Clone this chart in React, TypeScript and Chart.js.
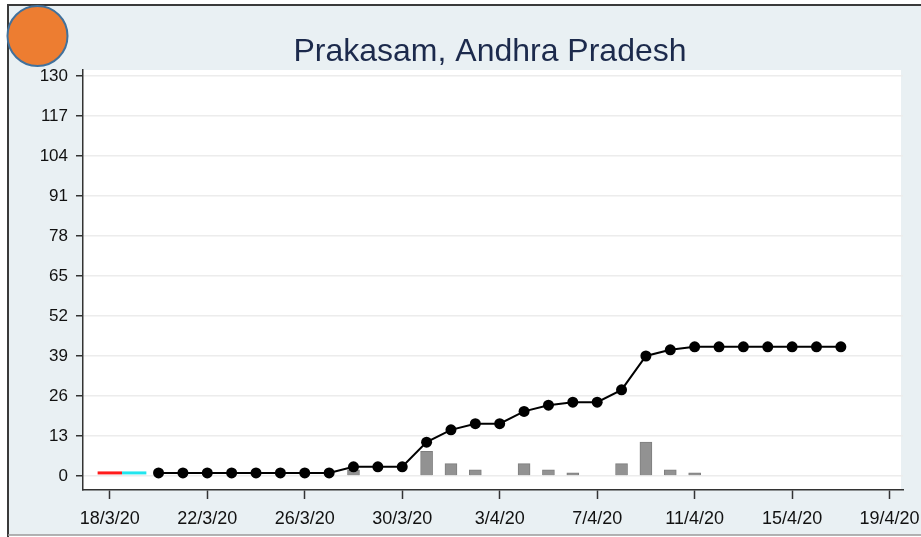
import React, { useEffect, useRef } from "react";
import { Chart, registerables } from "chart.js";

Chart.register(...registerables);

const chartTitle = "Prakasam, Andhra Pradesh";
const originDate = "18/3/20";

const dates = [
  "20/3/20", "21/3/20", "22/3/20", "23/3/20", "24/3/20", "25/3/20", "26/3/20", "27/3/20",
  "28/3/20", "29/3/20", "30/3/20", "31/3/20", "1/4/20", "2/4/20", "3/4/20", "4/4/20",
  "5/4/20", "6/4/20", "7/4/20", "8/4/20", "9/4/20", "10/4/20", "11/4/20", "12/4/20",
  "13/4/20", "14/4/20", "15/4/20", "16/4/20", "17/4/20",
];
const cumulativeCases = [
  1, 1, 1, 1, 1, 1, 1, 1,
  3, 3, 3, 11, 15, 17, 17, 21,
  23, 24, 24, 28, 39, 41, 42, 42,
  42, 42, 42, 42, 42,
];
const dailyCases = [
  0, 0, 0, 0, 0, 0, 0, 0,
  2, 0, 0, 8, 4, 2, 0, 4,
  2, 1, 0, 4, 11, 2, 1, 0,
  0, 0, 0, 0, 0,
];

// short coloured phase segments near the start (day offsets from origin, value)
const redSegment = { from: -0.5, to: 0.5, value: 1 };
const cyanSegment = { from: 0.5, to: 1.5, value: 1 };

const yTickValues = [0, 13, 26, 39, 52, 65, 78, 91, 104, 117, 130];
const xTickLabels = ["18/3/20", "22/3/20", "26/3/20", "30/3/20", "3/4/20", "7/4/20", "11/4/20", "15/4/20", "19/4/20"];

function dayIndex(s: string): number {
  const [d, m, y] = s.split("/").map(Number);
  const [od, om, oy] = originDate.split("/").map(Number);
  return (Date.UTC(2000 + y, m - 1, d) - Date.UTC(2000 + oy, om - 1, od)) / 86400000;
}

const FONT = "'Liberation Sans', Arial, sans-serif";

const decorPlugin = {
  id: "decor",
  beforeDraw(chart: any) {
    const { ctx, chartArea, width, height } = chart;
    ctx.save();
    ctx.fillStyle = "#ffffff";
    ctx.fillRect(0, 0, width, height);
    ctx.fillStyle = "#e9f0f3";
    ctx.fillRect(8, 5, width - 8, 530);
    ctx.fillStyle = "#ffffff";
    ctx.fillRect(chartArea.left, chartArea.top, 901 - chartArea.left, chartArea.bottom - chartArea.top);
    // frame
    ctx.strokeStyle = "#3a3a3a";
    ctx.lineWidth = 2;
    ctx.beginPath();
    ctx.moveTo(8, height);
    ctx.lineTo(8, 5);
    ctx.lineTo(width, 5);
    ctx.stroke();
    ctx.strokeStyle = "#9a9a9a";
    ctx.lineWidth = 1.5;
    ctx.beginPath();
    ctx.moveTo(8, 535);
    ctx.lineTo(width, 535);
    ctx.stroke();
    // title
    ctx.fillStyle = "#1c2a4c";
    ctx.font = `32px ${FONT}`;
    ctx.textAlign = "center";
    ctx.textBaseline = "alphabetic";
    ctx.fillText(chartTitle, 490, 61);
    ctx.restore();
  },
  afterDraw(chart: any) {
    const { ctx } = chart;
    ctx.save();
    ctx.beginPath();
    ctx.arc(37.5, 36, 30, 0, Math.PI * 2);
    ctx.fillStyle = "#ed7d31";
    ctx.fill();
    ctx.lineWidth = 2;
    ctx.strokeStyle = "#41719c";
    ctx.stroke();
    ctx.restore();
  },
};

export default function App() {
  const ref = useRef<HTMLCanvasElement | null>(null);

  useEffect(() => {
    if (!ref.current) return;
    const lineData = dates.map((d, i) => ({ x: dayIndex(d), y: cumulativeCases[i] }));
    const barData = dates.map((d, i) => ({ x: dayIndex(d), y: dailyCases[i] }));
    const labelByDay: Record<number, string> = {};
    xTickLabels.forEach((l) => (labelByDay[dayIndex(l)] = l));

    const chart = new Chart(ref.current, {
      type: "bar",
      data: {
        datasets: [
          {
            type: "line",
            data: lineData,
            borderColor: "#000000",
            backgroundColor: "#000000",
            borderWidth: 2,
            pointRadius: 5.5,
            pointBackgroundColor: "#000000",
            pointBorderWidth: 0,
            order: 1,
          } as any,
          {
            type: "line",
            data: [
              { x: redSegment.from, y: redSegment.value },
              { x: redSegment.to, y: redSegment.value },
            ],
            borderColor: "#ff1a1a",
            borderWidth: 3,
            pointRadius: 0,
            order: 1,
          } as any,
          {
            type: "line",
            data: [
              { x: cyanSegment.from, y: cyanSegment.value },
              { x: cyanSegment.to, y: cyanSegment.value },
            ],
            borderColor: "#22e5ee",
            borderWidth: 3,
            pointRadius: 0,
            order: 1,
          } as any,
          {
            type: "bar",
            data: barData,
            backgroundColor: "#929292",
            borderColor: "#7e7e7e",
            borderWidth: 1,
            barThickness: 12,
            order: 2,
          } as any,
        ],
      },
      options: {
        animation: false,
        responsive: false,
        maintainAspectRatio: false,
        layout: { padding: { left: 0, right: 18, top: 70, bottom: 0 } },
        plugins: {
          legend: { display: false },
          title: { display: false },
          tooltip: { enabled: false },
        },
        scales: {
          x: {
            type: "linear",
            min: -1.1,
            max: 32.55,
            offset: false,
            afterBuildTicks: (scale: any) => {
              scale.ticks = xTickLabels.map((l) => ({ value: dayIndex(l) }));
            },
            afterFit: (scale: any) => {
              scale.height = 47;
              scale.paddingLeft = 0;
              scale.paddingRight = 0;
            },
            ticks: {
              autoSkip: false,
              maxRotation: 0,
              padding: 9,
              color: "#111111",
              font: { family: FONT, size: 18 },
              callback: (v: any) => labelByDay[v] ?? "",
            },
            grid: {
              offset: false,
              drawOnChartArea: false,
              drawTicks: true,
              tickLength: 9,
              tickColor: "#333333",
              tickWidth: 1.5,
            },
            border: { display: true, color: "#333333", width: 1.5 },
          },
          y: {
            type: "linear",
            min: -4.55,
            max: 131.95,
            afterBuildTicks: (scale: any) => {
              scale.ticks = yTickValues.map((v) => ({ value: v }));
            },
            afterFit: (scale: any) => {
              scale.width = 83;
              scale.paddingTop = 0;
              scale.paddingBottom = 0;
            },
            ticks: {
              autoSkip: false,
              padding: 8,
              color: "#111111",
              font: { family: FONT, size: 17 },
            },
            grid: {
              color: "#ececec",
              lineWidth: 1.5,
              drawTicks: true,
              tickLength: 7,
              tickColor: "#333333",
              tickWidth: 1.5,
            },
            border: { display: true, color: "#333333", width: 1.5 },
          },
        },
      },
      plugins: [decorPlugin],
    } as any);
    return () => chart.destroy();
  }, []);

  return (
    <div style={{ position: "absolute", left: 0, top: 0, width: 921, height: 537 }}>
      <canvas ref={ref} width={921} height={537} style={{ width: 921, height: 537, display: "block" }} />
    </div>
  );
}
